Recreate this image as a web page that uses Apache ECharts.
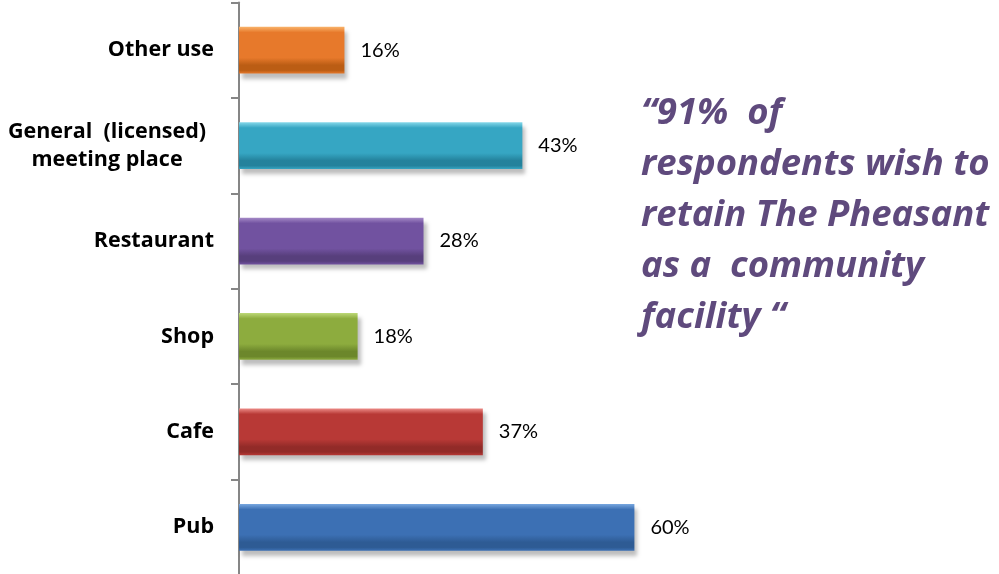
<!DOCTYPE html>
<html>
<head>
<meta charset="utf-8">
<script src="https://cdn.jsdelivr.net/npm/echarts@6/dist/echarts.min.js"></script>
<style>
  html, body { margin: 0; padding: 0; background: #ffffff; }
  #chart { width: 999px; height: 574px; }
</style>
</head>
<body>
<div id="chart"></div>
<script>
// Survey: preferred use of the building (percent of respondents), bottom to top
const categories = ['Pub', 'Cafe', 'Shop', 'Restaurant', 'General  (licensed)\nmeeting place', 'Other use'];
const values = [60, 37, 18, 28, 43, 16];

// Bevelled fill per bar: [top highlight, body, lower shade]
const barShades = [
  ['#79a8e0', '#3c70b4', '#2e5b94'],
  ['#ec8a86', '#b83936', '#922b28'],
  ['#bcd877', '#8dac3e', '#6c872b'],
  ['#a68bc8', '#7152a0', '#573f7c'],
  ['#86d8ea', '#36a6c3', '#24829c'],
  ['#f9b36a', '#e7792b', '#bb5d14']
];

const quoteLines = [
  '\u201C91%  of',
  'respondents wish to',
  'retain The Pheasant',
  'as a  community',
  'facility \u201C'
];

function bevel(c) {
  return new echarts.graphic.LinearGradient(0, 0, 0, 1, [
    { offset: 0, color: c[0] },
    { offset: 0.12, color: c[1] },
    { offset: 0.66, color: c[1] },
    { offset: 0.82, color: c[2] },
    { offset: 0.93, color: c[2] },
    { offset: 1, color: c[1] }
  ]);
}

const labelFont = { fontFamily: 'Open Sans', fontWeight: 'bold', fontSize: 21.5, color: '#000000' };

const chart = echarts.init(document.getElementById('chart'));
chart.setOption({
  animation: false,
  grid: {
    left: 239, top: 2.5, width: 659, height: 572.5,
    containLabel: false, outerBoundsMode: 'none'
  },
  xAxis: { type: 'value', min: 0, max: 100, show: false },
  yAxis: {
    type: 'category',
    data: categories,
    axisLine: { show: true, lineStyle: { color: '#868686', width: 2 } },
    axisTick: { show: true, length: 8, lineStyle: { color: '#868686', width: 2 } },
    axisLabel: Object.assign({
      margin: 25,
      lineHeight: 28,
      align: 'right',
      // two-line labels are centred on each other
      formatter: v => v.indexOf('\n') >= 0
        ? v.split('\n').map(l => '{m|' + l + '}').join('\n')
        : v,
      rich: {
        m: Object.assign({ width: 214, align: 'center', lineHeight: 28 }, labelFont)
      }
    }, labelFont)
  },
  series: [{
    type: 'bar',
    barCategoryGap: '51%',
    data: values.map((v, i) => ({
      value: v,
      itemStyle: {
        color: bevel(barShades[i]),
        shadowColor: 'rgba(0,0,0,0.26)',
        shadowBlur: 4,
        shadowOffsetX: 3,
        shadowOffsetY: 5
      }
    })),
    label: {
      show: true,
      position: 'right',
      distance: 16,
      formatter: p => p.value + '%',
      color: '#000000',
      fontFamily: 'Lato',
      fontSize: 20
    }
  }],
  graphic: [{
    type: 'text',
    left: 641,
    top: 88,
    style: {
      text: quoteLines.join('\n'),
      fill: '#5f4a7d',
      fontFamily: 'Open Sans',
      fontStyle: 'italic',
      fontWeight: 'bold',
      fontSize: 36.5,
      lineHeight: 51
    }
  }]
});
</script>
</body>
</html>
